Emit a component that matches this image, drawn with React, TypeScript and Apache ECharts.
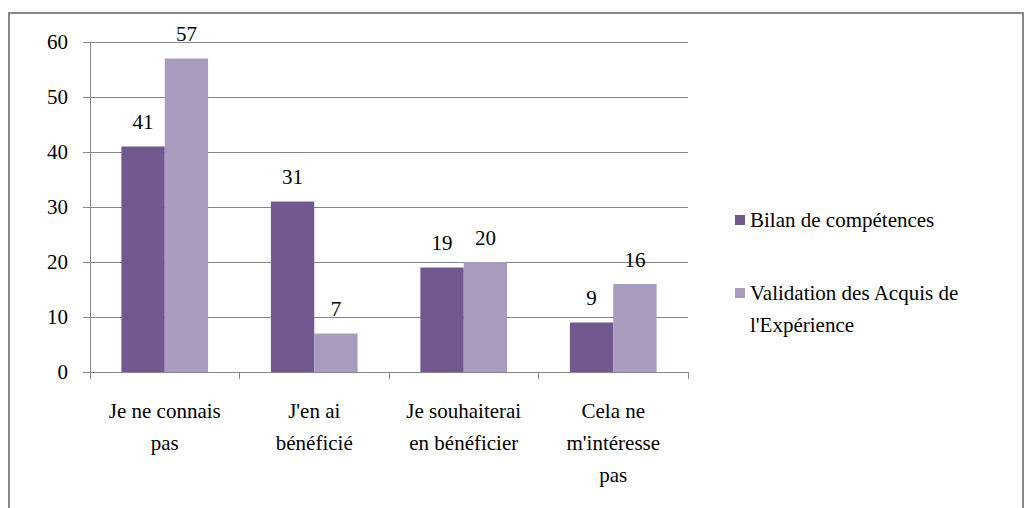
import React, { useEffect, useRef } from "react";
import * as echarts from "echarts";

const categories = [
  "Je ne connais\npas",
  "J'en ai\nbénéficié",
  "Je souhaiterai\nen bénéficier",
  "Cela ne\nm'intéresse\npas",
];
const seriesNames = ["Bilan de compétences", "Validation des Acquis de l'Expérience"];
const bilanValues = [41, 31, 19, 9];
const vaeValues = [57, 7, 20, 16];
const yTicks = { min: 0, max: 60, interval: 10 };

const FONT = "Liberation Serif";
const richLines = (s: string) =>
  s
    .split("\n")
    .map((l) => (l ? `{s|${l}}` : "{p|}"))
    .join("\n");
const sStyle = { fontFamily: FONT, fontSize: 21, color: "#000", lineHeight: 32 };
const sStyleNoLH = { fontFamily: FONT, fontSize: 21, color: "#000" };

export default function App() {
  const ref = useRef<HTMLDivElement>(null);
  useEffect(() => {
    if (!ref.current) return;
    const chart = echarts.init(ref.current, undefined, { renderer: "svg" });
    chart.setOption({
      animation: false,
      textStyle: { fontFamily: FONT },
      graphic: [
        {
          type: "rect",
          shape: { x: 9, y: 13, width: 1014, height: 520 },
          style: { fill: "none", stroke: "#888888", lineWidth: 2 },
          z: -10,
        },
      ],
      grid: { left: 90, right: 343, top: 42, bottom: 136, containLabel: false },
      legend: {
        orient: "vertical",
        left: 730,
        top: 199,
        itemWidth: 10,
        itemHeight: 10,
        itemGap: 9,
        icon: "rect",
        formatter: (name: string) =>
          name === seriesNames[1]
            ? richLines("\nValidation des Acquis de\nl'Expérience")
            : richLines(name),
        textStyle: {
          fontFamily: FONT,
          fontSize: 21,
          lineHeight: 32,
          rich: { p: { height: 32, lineHeight: 32, fontFamily: FONT, fontSize: 21 }, s: sStyle },
        },
      },
      xAxis: {
        type: "category",
        data: categories,
        axisLine: { show: true, lineStyle: { color: "#868686", width: 1 } },
        axisTick: { show: true, interval: 0, alignWithLabel: false, length: 7, lineStyle: { color: "#868686" } },
        axisLabel: {
          interval: 0,
          fontFamily: FONT,
          fontSize: 21,
          lineHeight: 32,
          margin: 23,
          formatter: (v: string) => richLines(v),
          rich: { s: sStyle, p: { height: 32 } },
        },
      },
      yAxis: {
        type: "value",
        min: yTicks.min,
        max: yTicks.max,
        interval: yTicks.interval,
        axisLine: { show: true, lineStyle: { color: "#868686", width: 1 } },
        axisTick: { show: true, length: 7, lineStyle: { color: "#868686" } },
        splitLine: { show: true, lineStyle: { color: "#868686", width: 1 } },
        axisLabel: {
          fontFamily: FONT,
          fontSize: 21,
          margin: 22,
          formatter: "{s|{value}}",
          rich: { s: sStyleNoLH },
        },
      },
      series: [
        {
          name: seriesNames[0],
          type: "bar",
          data: bilanValues,
          barGap: "0%",
          barCategoryGap: "42%",
          itemStyle: { color: "#71588F" },
          label: {
            show: true,
            position: "top",
            distance: 14,
            fontFamily: FONT,
            fontSize: 21,
            formatter: "{s|{c}}",
            rich: { s: sStyleNoLH },
          },
        },
        {
          name: seriesNames[1],
          type: "bar",
          data: vaeValues,
          barGap: "0%",
          barCategoryGap: "42%",
          itemStyle: { color: "#A99BBD" },
          label: {
            show: true,
            position: "top",
            distance: 14,
            fontFamily: FONT,
            fontSize: 21,
            formatter: "{s|{c}}",
            rich: { s: sStyleNoLH },
          },
        },
      ],
    });
    return () => chart.dispose();
  }, []);
  return (
    <div
      ref={ref}
      style={{ position: "absolute", left: 0, top: 0, width: 1031, height: 508 }}
    />
  );
}
